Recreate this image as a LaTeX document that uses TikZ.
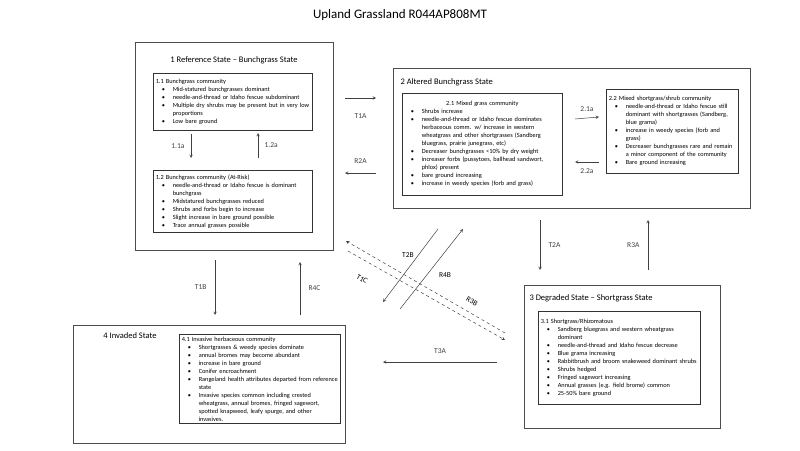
\documentclass[tikz,border=0pt]{standalone}
\usepackage{fontspec}
\setmainfont{Carlito}
\usetikzlibrary{positioning}
\hyphenpenalty=10000
\exhyphenpenalty=10000
\newcommand\itm{\par\hangindent=17pt\hangafter=1\noindent\hbox to 17pt{\hskip6pt\textbullet\hss}}
\tikzset{
  statebox/.style={draw=black!70, line width=0.8pt, anchor=north west, minimum width=#1, inner sep=0pt},
  commbox/.style={draw=black!80, line width=0.6pt, anchor=north west, text width=#1, align=left,
    inner sep=2.5pt, font=\fontsize{6.3}{8}\selectfont},
  statetitle/.style={font=\fontsize{8.5}{10}\selectfont},
  trans/.style={->, >=stealth, black!75, line width=0.5pt},
  dtrans/.style={trans, dashed},
  tlabel/.style={font=\fontsize{7.5}{9}\selectfont},
}
\begin{document}
\begin{tikzpicture}[x=1pt,y=-1pt]
  \useasboundingbox (0,0) rectangle (800,450);
  \node[font=\fontsize{13}{15}\selectfont] (title) at (400,15) {Upland Grassland R044AP808MT};
%%
  % State 1
  \node[statebox=198pt, minimum height=208pt] (s1) at (135,42) {};
  \node[statetitle] (s1t) at (234,60) {1 Reference State -- Bunchgrass State};
  \node[commbox=154pt, minimum height=57pt] (c11) at (153,73) {1.1 Bunchgrass community
    \itm Mid-statured bunchgrasses dominant
    \itm needle-and-thread or Idaho fescue subdominant
    \itm Multiple dry shrubs may be present but in very low proportions
    \itm Low bare ground\par};
  \node[commbox=154pt, minimum height=62pt] (c12) at (153,170) {1.2 Bunchgrass community (At-Risk)
    \itm needle-and-thread or Idaho fescue is dominant bunchgrass
    \itm Midstatured bunchgrasses reduced
    \itm Shrubs and forbs begin to increase
    \itm Slight increase in bare ground possible
    \itm Trace annual grasses possible\par};
  % State 2
  \node[statebox=357pt, minimum height=140pt] (s2) at (393,68) {};
  \node[statetitle, anchor=west] (s2t) at (397,82) {2 Altered Bunchgrass State};
  \node[commbox=155pt, minimum height=102pt] (c21) at (402,93) {\centerline{2.1 Mixed grass community}
    \itm Shrubs increase
    \itm needle-and-thread or Idaho fescue dominates herbaceous comm. w/ increase in western wheatgrass and other shortgrasses (Sandberg bluegrass, prairie junegrass, etc)
    \itm Decreaser bunchgrasses {<}10\% by dry weight
    \itm increaser forbs (pussytoes, ballhead sandwort, phlox) present
    \itm bare ground increasing
    \itm increase in weedy species (forb and grass)\par};
  \node[commbox=127pt, minimum height=84pt] (c22) at (606,89) {2.2 Mixed shortgrass/shrub community
    \itm needle-and-thread or Idaho fescue still dominant with shortgrasses (Sandberg, blue grama)
    \itm increase in weedy species (forb and grass)
    \itm Decreaser bunchgrasses rare and remain a minor component of the community
    \itm Bare ground increasing\par};
  % State 3
  \node[statebox=196pt, minimum height=143pt] (s3) at (524,285) {};
  \node[statetitle, anchor=west] (s3t) at (526,298) {3 Degraded State -- Shortgrass State};
  \node[commbox=157pt, minimum height=93pt] (c31) at (538,311) {3.1 Shortgrass/Rhizomatous
    \itm Sandberg bluegrass and western wheatgrass dominant
    \itm needle-and-thread and Idaho fescue decrease
    \itm Blue grama increasing
    \itm Rabbitbrush and broom snakeweed dominant shrubs
    \itm Shrubs hedged
    \itm Fringed sagewort increasing
    \itm Annual grasses (e.g. field brome) common
    \itm 25-50\% bare ground\par};
  % State 4
  \node[statebox=272pt, minimum height=118pt] (s4) at (73,325) {};
  \node[statetitle] (s4t) at (130,336) {4 Invaded State};
  \node[commbox=156pt, minimum height=83pt] (c41) at (179,334) {4.1 Invasive herbaceous community
    \itm Shortgrasses \& weedy species dominate
    \itm annual bromes may become abundant
    \itm increase in bare ground
    \itm Conifer encroachment
    \itm Rangeland health attributes departed from reference state
    \itm Invasive species common including crested wheatgrass, annual bromes, fringed sagewort, spotted knapweed, leafy spurge, and other invasives.\par};
%%
  % Transitions within states
  \draw[trans] (191,134) -- (191,158) node[tlabel, midway, left=3pt] {1.1a};
  \draw[trans] (258,158) -- (258,133) node[tlabel, midway, right=3pt] {1.2a};
  \draw[trans] (575,119) -- (599,117) node[tlabel, midway, above=3pt] {2.1a};
  \draw[trans] (599,162) -- (575,162) node[tlabel, midway, below=3pt] {2.2a};
  % Transitions between states
  \draw[trans] (345,98) -- (376,98) node[tlabel, midway, below=12pt] {T1A};
  \draw[trans] (376,173) -- (345,173) node[tlabel, midway, above=6pt] {R2A};
  \draw[trans] (215,260) -- (215,315) node[tlabel, midway, left=5pt] {T1B};
  \draw[trans] (300,315) -- (300,262) node[tlabel, midway, right=5pt] {R4C};
  \draw[trans] (540,220) -- (540,270) node[tlabel, midway, right=5pt] {T2A};
  \draw[trans] (648,270) -- (648,220) node[tlabel, midway, left=5pt] {R3A};
  \draw[trans] (497,362) -- (383,362) node[tlabel, midway, above=5pt] {T3A};
  \draw[trans] (438,229) -- (383,302);
  \draw[trans] (400,309) -- (463,229);
  \node[tlabel] (t2b) at (408,255) {T2B};
  \node[tlabel] (r4b) at (445,275) {R4B};
  \draw[dtrans] (505,333) -- (346,241);
  \draw[dtrans] (348,251) -- (505,340);
  \node[tlabel, rotate=-30] (t1c) at (362,279) {T1C};
  \node[tlabel, rotate=-30] (r3b) at (472,301) {R3B};
%
\end{tikzpicture}
\end{document}
